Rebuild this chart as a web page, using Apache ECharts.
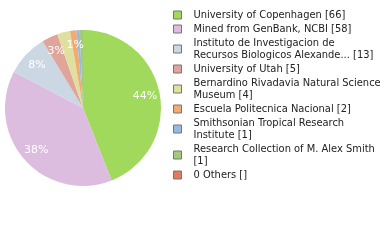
<!DOCTYPE html>
<html><head><meta charset="utf-8">
<script src="https://cdn.jsdelivr.net/npm/echarts@6/dist/echarts.min.js"></script>
<style>html,body{margin:0;padding:0;background:#fff}#c{width:380px;height:240px}</style>
</head><body><div id="c"></div>
<script>
const names = [
  "University of Copenhagen [66]",
  "Mined from GenBank, NCBI [58]",
  "Instituto de Investigacion de\nRecursos Biologicos Alexande... [13]",
  "University of Utah [5]",
  "Bernardino Rivadavia Natural Sciences\nMuseum [4]",
  "Escuela Politecnica Nacional [2]",
  "Smithsonian Tropical Research\nInstitute [1]",
  "Research Collection of M. Alex Smith\n[1]",
  "0 Others []"
];
const values = [66, 58, 13, 5, 4, 2, 1, 1, 0];
const colors = ["#a0d95c","#dcbde0","#cbd8e3","#dfa59b","#dfe0a0","#f0ac70","#9ab9e0","#a3c97c","#e07c5e"];

const dataItems = names.map((n,i)=>({name:n, value:values[i]}));
const chart = echarts.init(document.getElementById('c'), null, {renderer:'canvas'});
chart.setOption({
  animation: false,
  color: colors,
  legend: {
    orient: 'vertical', left: 168, top: 4,
    itemWidth: 8, itemHeight: 8, itemGap: 2,
    icon: 'rect',
    itemStyle: {borderColor: '#777', borderWidth: 1},
    textStyle: {fontFamily: 'DejaVu Sans Condensed', fontSize: 11, color: '#222', lineHeight: 12, padding:[0,0,0,7]},
    data: names
  },
  series: [{
    type: 'pie',
    center: [83, 108], radius: 78,
    startAngle: 90, clockwise: true,
    data: dataItems,
    label: {show: false},
    labelLine: {show:false},
    itemStyle: {borderWidth: 0}
  },{
    type: 'pie',
    center: [83, 108], radius: [42, 78],
    startAngle: 90, clockwise: true, silent: true,
    avoidLabelOverlap: false,
    data: dataItems,
    itemStyle: {color: 'rgba(0,0,0,0)', borderWidth: 0},
    label: {
      position: 'inside', color: '#fff', fontFamily: 'DejaVu Sans', fontSize: 11,
      formatter: p => p.value > 0 ? Math.floor(p.percent) + '%' : ''
    },
    labelLine: {show:false}
  }]
});
</script></body></html>
